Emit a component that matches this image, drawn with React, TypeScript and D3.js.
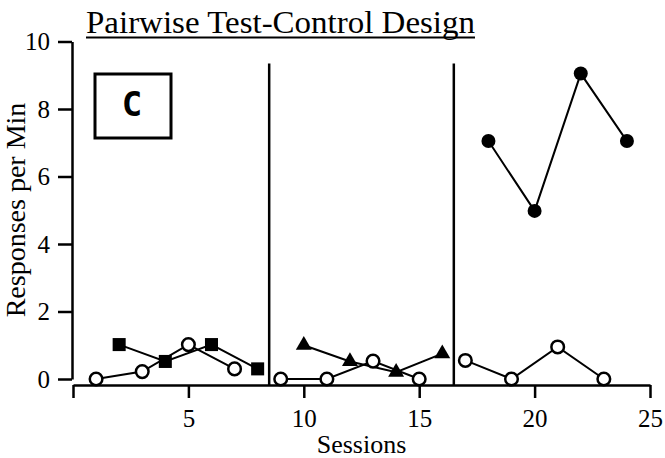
import { useEffect, useRef } from "react";
import * as d3 from "d3";

const width = 665;
const height = 458;

// control (open circles), one array per phase
const controlA = [
  { s: 1, v: 0 },
  { s: 3, v: 0.22 },
  { s: 5, v: 1.02 },
  { s: 7, v: 0.3 },
];
const controlB = [
  { s: 9, v: 0 },
  { s: 11, v: 0 },
  { s: 13, v: 0.53 },
  { s: 15, v: 0 },
];
const controlC = [
  { s: 17, v: 0.55 },
  { s: 19, v: 0 },
  { s: 21, v: 0.95 },
  { s: 23, v: 0 },
];
// test series
const squares = [
  { s: 2, v: 1.02 },
  { s: 4, v: 0.52 },
  { s: 6, v: 1.02 },
  { s: 8, v: 0.3 },
];
const triangles = [
  { s: 10, v: 1.0 },
  { s: 12, v: 0.52 },
  { s: 14, v: 0.2 },
  { s: 16, v: 0.75 },
];
const filled = [
  { s: 18, v: 7.05 },
  { s: 20, v: 4.98 },
  { s: 22, v: 9.05 },
  { s: 24, v: 7.05 },
];
const phaseChanges = [8.5, 16.5];
const xTicks = [0, 5, 10, 15, 20, 25];
const yTicks = [0, 2, 4, 6, 8, 10];

const x = d3.scaleLinear().domain([0, 25]).range([73, 650]);
const y = d3.scaleLinear().domain([0, 10]).range([379, 41.5]);

const line = d3
  .line<{ s: number; v: number }>()
  .x((d) => x(d.s))
  .y((d) => y(d.v));

const squareSym = d3.symbol().type(d3.symbolSquare).size(170)();
const triSym = d3.symbol().type(d3.symbolTriangle).size(110)();

const serif = "'Liberation Serif', 'Times New Roman', serif";

export default function App() {
  const xRef = useRef<SVGGElement>(null);
  const yRef = useRef<SVGGElement>(null);

  useEffect(() => {
    const xAxis = d3
      .axisBottom(x)
      .tickValues(xTicks)
      .tickSize(13)
      .tickSizeOuter(0)
      .tickPadding(11)
      .tickFormat((d) => (d === 0 ? "" : String(d)));
    const yAxis = d3
      .axisLeft(y)
      .tickValues(yTicks)
      .tickSize(14)
      .tickSizeOuter(0)
      .tickPadding(8);

    [d3.select(xRef.current!).call(xAxis as any), d3.select(yRef.current!).call(yAxis as any)].forEach((g) => {
      g.attr("font-family", serif).attr("font-size", 25);
      g.selectAll("path, line").attr("stroke", "#000").attr("stroke-width", 2.5);
      g.selectAll("text").attr("fill", "#000");
    });
  }, []);

  const openDots = (arr: { s: number; v: number }[], key: string) => (
    <g key={key}>
      <path d={line(arr) ?? ""} fill="none" stroke="#000" strokeWidth={2} />
      {arr.map((d, i) => (
        <circle key={i} cx={x(d.s)} cy={y(d.v)} r={6.3} fill="#fff" stroke="#000" strokeWidth={2.5} />
      ))}
    </g>
  );

  return (
    <div style={{ position: "absolute", left: 0, top: 0 }}>
      <svg width={width} height={height} style={{ display: "block", background: "#fff" }}>
        {/* title */}
        <text x={86} y={33} fontFamily={serif} fontSize={31} textLength={389} lengthAdjust="spacingAndGlyphs">
          Pairwise Test-Control Design
        </text>
        <line x1={86} x2={475} y1={37.5} y2={37.5} stroke="#000" strokeWidth={2} />

        {/* panel label */}
        <rect x={95} y={74} width={76} height={64} fill="none" stroke="#000" strokeWidth={3} />
        <text x={132} y={116} textAnchor="middle" fontFamily="'DejaVu Sans Mono', monospace" fontWeight="bold" fontSize={34}>
          C
        </text>

        {/* phase change lines */}
        {phaseChanges.map((p) => (
          <line key={p} x1={x(p)} x2={x(p)} y1={y(9.35)} y2={385} stroke="#000" strokeWidth={2.5} />
        ))}

        <g ref={xRef} transform="translate(0,385)" />
        <g ref={yRef} transform="translate(72,0)" />

        {/* test series */}
        <g>
          <path d={line(squares) ?? ""} fill="none" stroke="#000" strokeWidth={2} />
          {squares.map((d, i) => (
            <path key={i} d={squareSym ?? ""} transform={`translate(${x(d.s)},${y(d.v)})`} fill="#000" />
          ))}
        </g>
        <g>
          <path d={line(triangles) ?? ""} fill="none" stroke="#000" strokeWidth={2} />
          {triangles.map((d, i) => (
            <path key={i} d={triSym ?? ""} transform={`translate(${x(d.s)},${y(d.v)})`} fill="#000" />
          ))}
        </g>
        <g>
          <path d={line(filled) ?? ""} fill="none" stroke="#000" strokeWidth={2} />
          {filled.map((d, i) => (
            <circle key={i} cx={x(d.s)} cy={y(d.v)} r={7} fill="#000" />
          ))}
        </g>

        {/* control series */}
        {openDots(controlA, "a")}
        {openDots(controlB, "b")}
        {openDots(controlC, "c")}

        {/* axis titles */}
        <text x={361.5} y={453} textAnchor="middle" fontFamily={serif} fontSize={26}>
          Sessions
        </text>
        <text
          transform="translate(25,210) rotate(-90)"
          textAnchor="middle"
          fontFamily={serif}
          fontSize={28}
        >
          Responses per Min
        </text>
      </svg>
    </div>
  );
}
